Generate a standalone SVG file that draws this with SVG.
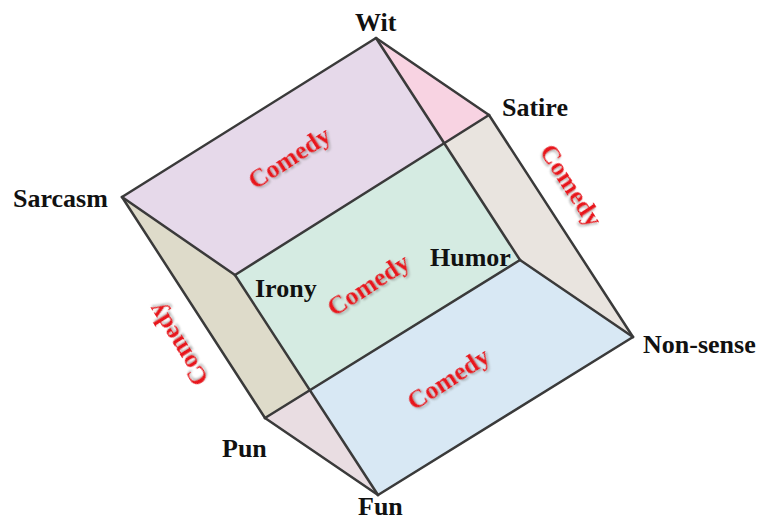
<svg xmlns="http://www.w3.org/2000/svg" width="762" height="523" viewBox="0 0 762 523">
<defs>
<style>
.lbl{font-family:"Liberation Serif","Times New Roman",serif;font-weight:bold;font-size:26px;fill:#111}
.com{font-family:"Liberation Serif","Times New Roman",serif;font-weight:bold;font-size:26px;fill:#e8141c;text-anchor:middle;filter:url(#sh)}
.edge{stroke:#3a3a3a;stroke-width:2.5;fill:none;stroke-linecap:round}
</style>
<filter id="sh" x="-20%" y="-40%" width="140%" height="180%">
<feDropShadow dx="1" dy="2" stdDeviation="1" flood-color="#888" flood-opacity="0.7"/>
</filter>
</defs>
<rect width="762" height="523" fill="#fff"/>
<g id="faces">
<polygon points="122,197 376,38 444,143 235,275" fill="#e6d9ea"/>
<polygon points="376,38 489,115 444,143" fill="#f8d3e2"/>
<polygon points="235,275 444,143 520,260 310,390" fill="#d5ebe2"/>
<polygon points="444,143 489,115 633,337 520,260" fill="#e9e4df"/>
<polygon points="310,390 520,260 633,337 378,495" fill="#d8e8f4"/>
<polygon points="122,197 235,275 310,390 265,418" fill="#dedbca"/>
<polygon points="265,418 310,390 378,495" fill="#e9dde2"/>
</g>
<g id="connectors">
<line class="edge" x1="122" y1="197" x2="376" y2="38"/>
<line class="edge" x1="376" y1="38" x2="489" y2="115"/>
<line class="edge" x1="376" y1="38" x2="520" y2="260"/>
<line class="edge" x1="489" y1="115" x2="235" y2="275"/>
<line class="edge" x1="122" y1="197" x2="235" y2="275"/>
<line class="edge" x1="122" y1="197" x2="265" y2="418"/>
<line class="edge" x1="235" y1="275" x2="378" y2="495"/>
<line class="edge" x1="265" y1="418" x2="520" y2="260"/>
<line class="edge" x1="265" y1="418" x2="378" y2="495"/>
<line class="edge" x1="489" y1="115" x2="633" y2="337"/>
<line class="edge" x1="520" y1="260" x2="633" y2="337"/>
<line class="edge" x1="378" y1="495" x2="633" y2="337"/>
</g>
<g id="face-labels">
<text class="com" transform="translate(294,165) rotate(-33)">Comedy</text>
<text class="com" transform="translate(373,292) rotate(-33)">Comedy</text>
<text class="com" transform="translate(453,386) rotate(-33)">Comedy</text>
<text class="com" transform="translate(564,190) rotate(57)">Comedy</text>
<text class="com" transform="translate(185,340) rotate(-122)">Comedy</text>
</g>
<g id="wit"><text class="lbl" x="355" y="31">Wit</text></g>
<g id="satire"><text class="lbl" x="502" y="116">Satire</text></g>
<g id="sarcasm"><text class="lbl" x="13" y="207">Sarcasm</text></g>
<g id="irony"><text class="lbl" x="255" y="297">Irony</text></g>
<g id="humor"><text class="lbl" x="430" y="266">Humor</text></g>
<g id="non-sense"><text class="lbl" x="643" y="353">Non-sense</text></g>
<g id="pun"><text class="lbl" x="222" y="457">Pun</text></g>
<g id="fun"><text class="lbl" x="358" y="515">Fun</text></g>
</svg>
